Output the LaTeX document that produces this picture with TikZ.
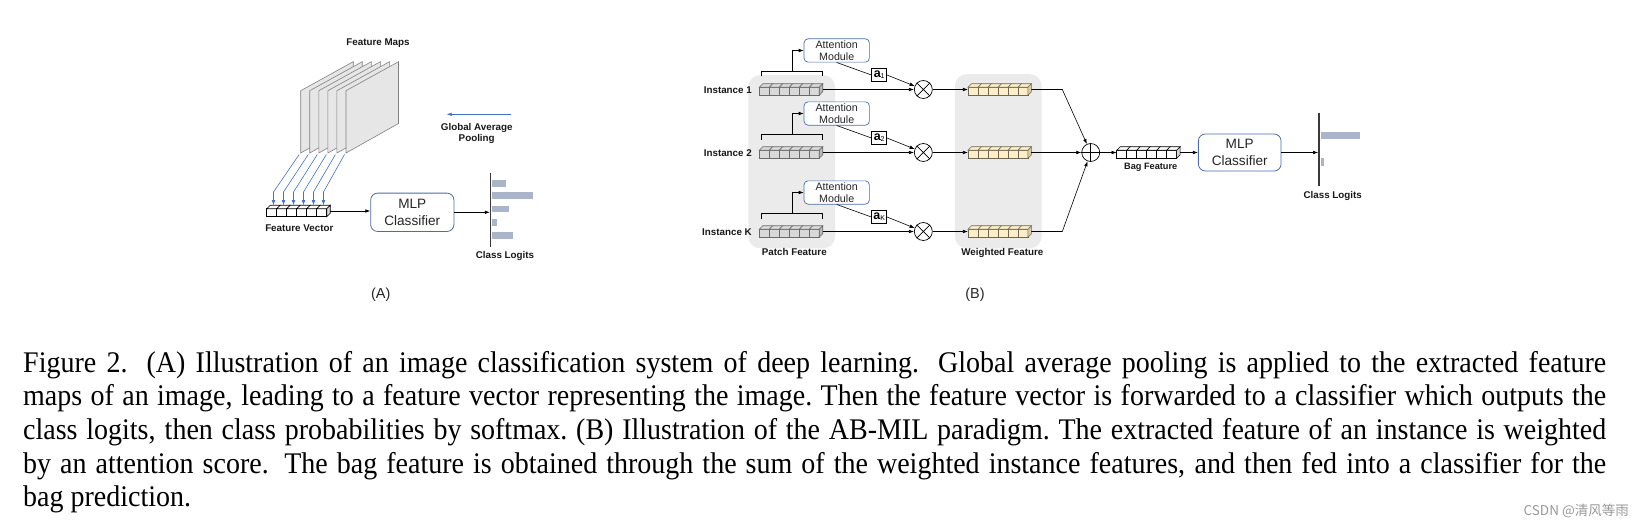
\documentclass[tikz,border=0pt]{standalone}
\usepackage{fontspec}
\usepackage{graphicx}
\setmainfont{Liberation Sans}
\newfontfamily\capfont{Liberation Serif}
\newfontfamily\cjkfont{Noto Sans CJK SC}
\usetikzlibrary{arrows.meta,calc}

\definecolor{mapfill}{HTML}{E6E6E6}
\definecolor{mapdraw}{HTML}{808080}
\definecolor{gapblue}{HTML}{4472C4}
\definecolor{boxblue}{HTML}{4A6DB0}
\definecolor{barcol}{HTML}{AAB5CA}
\definecolor{panelcol}{HTML}{EBEBEB}
\definecolor{patchfill}{HTML}{D9D9D9}
\definecolor{patchdraw}{HTML}{6A6A6A}
\definecolor{wfill}{HTML}{FCEFC7}
\definecolor{wdraw}{HTML}{6F6550}
\definecolor{axiscol}{HTML}{3A3A3A}

\newcommand\drawcubes[3]{%
 \begin{scope}[shift={(#1.south west)}, line width=0.55pt]
  \foreach \i in {0,...,5}{
   \filldraw[fill=#2, draw=#3] (\i*10,0) rectangle (\i*10+10,-8);
   \filldraw[fill=#2, draw=#3] (\i*10,-8) -- (\i*10+3.5,-11.5) -- (\i*10+13.5,-11.5) -- (\i*10+10,-8) -- cycle;
  }
  \filldraw[fill=#2!85!black, draw=#3] (60,0) -- (60,-8) -- (63.5,-11.5) -- (63.5,-3.5) -- cycle;
 \end{scope}}
\newcommand\capjust[1]{\scalebox{1}[1.07]{\makebox[1583pt][s]{#1}}}

\begin{document}
\begin{tikzpicture}[x=1pt,y=-1pt,
  lbl/.style={font=\fontsize{9.8}{11}\selectfont\bfseries, text=black!90, inner sep=0pt},
  arr/.style={-{Latex[length=5pt,width=3.6pt]}, line width=0.6pt},
  bluearr/.style={-{Latex[length=5pt,width=3.6pt]}, line width=0.6pt, draw=gapblue},
  fvec/.style={minimum width=63.5pt, minimum height=11.5pt, inner sep=0pt, outer sep=0pt},
  mlpbox/.style={draw=boxblue, rounded corners=7pt, line width=0.8pt, align=center, inner sep=0pt,
     font=\fontsize{13.6}{17}\selectfont, text=black!85, fill=white},
  attbox/.style={draw=boxblue, rounded corners=4pt, line width=0.7pt, align=center, inner sep=0pt,
     minimum width=65.3pt, minimum height=23.3pt, font=\fontsize{10.7}{11.7}\selectfont, text=black!85, fill=white},
  abox/.style={draw, line width=0.6pt, minimum width=15pt, minimum height=13.4pt, inner sep=0pt,
     font=\fontsize{12.5}{12.5}\selectfont, fill=white},
  circ/.style={circle, draw, line width=0.7pt, minimum size=18pt, inner sep=0pt, fill=white},
  panelbox/.style={fill=panelcol, rounded corners=12pt, inner sep=0pt},
  capl/.style={anchor=base west, inner sep=0pt, font=\capfont\fontsize{28}{33.7}\selectfont},
  sub/.style={font=\fontsize{14.5}{16}\selectfont, inner sep=0pt, text=black!85}
]
\fill[white] (0,0) rectangle (1649,527);
\path[use as bounding box] (0,0) rectangle (1649,527);

%% ---------------- (A) ----------------
\node[lbl] (fmlab) at (378,43) {Feature Maps};
\foreach \i in {0,...,5}{
  \pgfmathsetmacro\xo{300.7+9.06*\i}
  \draw[mapdraw, fill=mapfill, line width=0.6pt] (\xo,153) -- (\xo,90.7) -- (\xo+52.5,61.7) -- (\xo+52.5,123.5) -- cycle;
  \coordinate (ms\i) at (\xo-1.5,154.5);
}
\node[fvec] (fv) at (298.5,211) {};
\drawcubes{fv}{white}{black}
\foreach \i in {0,...,5}{
  \coordinate (cb\i) at (273.5+10*\i,192);
  \coordinate (ct\i) at (273.5+10*\i,205.2);
  \draw[bluearr] (ms\i) -- (cb\i) -- (ct\i);
}
\node[lbl] (fvlab) at (299.3,228.3) {Feature Vector};

\node[mlpbox, minimum width=83.3pt, minimum height=38.4pt] (mlpA) at (412.3,212.3) {MLP\\Classifier};
\draw[arr] (fv.east) -- (fv.east -| mlpA.west);

\coordinate (axAt) at (490.7,172.7);
\coordinate (axAb) at (490.7,246.7);
\coordinate (axA) at (489.8,212.3);
\draw[axiscol, line width=1.4pt] (axAt) -- (axAb);
\draw[arr] (mlpA.east) -- (axA);
\fill[barcol] (492.3,180.0) rectangle (506.0,186.7);
\fill[barcol] (492.3,192.4) rectangle (532.7,199.0);
\fill[barcol] (492.3,205.7) rectangle (508.7,212.3);
\fill[barcol] (492.3,219.0) rectangle (496.7,225.7);
\fill[barcol] (492.3,232.4) rectangle (513.3,239.0);
\node[lbl] (clA) at (505,256) {Class Logits};

\coordinate (gapS) at (510.7,114.3);
\coordinate (gapE) at (446.7,114.3);
\draw[bluearr] (gapS) -- (gapE);
\node[lbl, align=center, font=\fontsize{9.8}{11}\selectfont\bfseries] (gaplab) at (476.7,133.8) {Global Average\\Pooling};

\node[sub] (labA) at (380.7,294.5) {(A)};

%% ---------------- (B) ----------------
\node[panelbox, minimum width=86.7pt, minimum height=173.3pt] (ppanel) at (791.7,161.7) {};
\node[panelbox, minimum width=86.7pt, minimum height=174.3pt] (wpanel) at (998.3,161.2) {};

\node[circ] (op) at (1090.7,152.5) {};
\draw[line width=0.7pt] (op.north) -- (op.south) (op.west) -- (op.east);

\foreach \r/\n in {89.5/1, 152.5/2, 231.5/K}{
  \node[fvec] (p\n) at (791,\r) {};
  \drawcubes{p\n}{patchfill}{patchdraw}
  \node[lbl, anchor=east] (in\n) at (752,\r+1) {Instance \n};
  \draw[line width=0.6pt] (761.7,\r-13) -- (761.7,\r-18) -- (822.7,\r-18) -- (822.7,\r-13);
  \coordinate (bm\n) at (792.2,\r-18);
  \node[attbox] (att\n) at (836.7,\r-39) {Attention\\Module};
  \draw[arr] (bm\n) |- (att\n.west);
  \node[abox] (a\n) at (879.2,\r-14.5) {{\bfseries a}\raisebox{-1pt}{\fontsize{7}{7}\selectfont\n}};
  \node[circ] (ot\n) at (923.3,\r) {};
  \draw[line width=0.7pt] (ot\n.north west) -- (ot\n.south east) (ot\n.north east) -- (ot\n.south west);
  \draw[line width=0.6pt] (att\n.south) -- (a\n.west);
  \draw[arr] (a\n.east) -- (ot\n);
  \draw[arr] (p\n.east) -- (ot\n);
  \node[fvec] (w\n) at (999.7,\r) {};
  \drawcubes{w\n}{wfill}{wdraw}
  \draw[arr] (ot\n) -- (w\n.west);
}
\coordinate (j1) at (1062.3,89.5);
\coordinate (jK) at (1062.3,231.5);
\draw[arr] (w1.east) -- (j1) -- (op);
\draw[arr] (w2.east) -- (op.west);
\draw[arr] (wK.east) -- (jK) -- (op);

\node[lbl] (pflab) at (794.3,252.3) {Patch Feature};
\node[lbl] (wflab) at (1002.3,253.3) {Weighted Feature};

\node[fvec] (bag) at (1148.4,152.5) {};
\drawcubes{bag}{white}{black}
\node[lbl, font=\fontsize{9.2}{11}\selectfont\bfseries] (baglab) at (1150.7,167.3) {Bag Feature};
\draw[arr] (op) -- (bag.west);

\node[mlpbox, minimum width=82.7pt, minimum height=37pt] (mlpB) at (1239.7,152.5) {MLP\\Classifier};
\draw[arr] (bag.east) -- (mlpB.west);

\coordinate (axBt) at (1319,112.7);
\coordinate (axBb) at (1319,186);
\coordinate (axB) at (1318.1,152.5);
\draw[axiscol, line width=1.4pt] (axBt) -- (axBb);
\draw[arr] (mlpB.east) -- (axB);
\fill[barcol] (1320.6,132.3) rectangle (1360,139);
\fill[barcol] (1320.6,158.3) rectangle (1324.3,166);
\node[lbl] (clB) at (1332.7,196) {Class Logits};

\node[sub] (labB) at (975,294.5) {(B)};

%% ---------------- caption ----------------
\node[capl] (c1) at (23,372) {\capjust{Figure 2.  (A) Illustration of an image classification system of deep learning.  Global average pooling is applied to the extracted feature}};
\node[capl] (c2) at (23,405.7) {\capjust{maps of an image, leading to a feature vector representing the image.\ Then the feature vector is forwarded to a classifier which outputs the}};
\node[capl] (c3) at (23,439.4) {\capjust{class logits, then class probabilities by softmax.\ (B) Illustration of the AB-MIL paradigm.\ The extracted feature of an instance is weighted}};
\node[capl] (c4) at (23,473.1) {\capjust{by an attention score.  The bag feature is obtained through the sum of the weighted instance features, and then fed into a classifier for the}};
\node[capl] (c5) at (23,506.8) {\scalebox{1}[1.07]{bag prediction.}};

\node[anchor=base east, inner sep=0pt, font=\cjkfont\fontsize{13.5}{15}\selectfont, text=black!40] (wm) at (1629,515) {CSDN @清风等雨};
\end{tikzpicture}
\end{document}
